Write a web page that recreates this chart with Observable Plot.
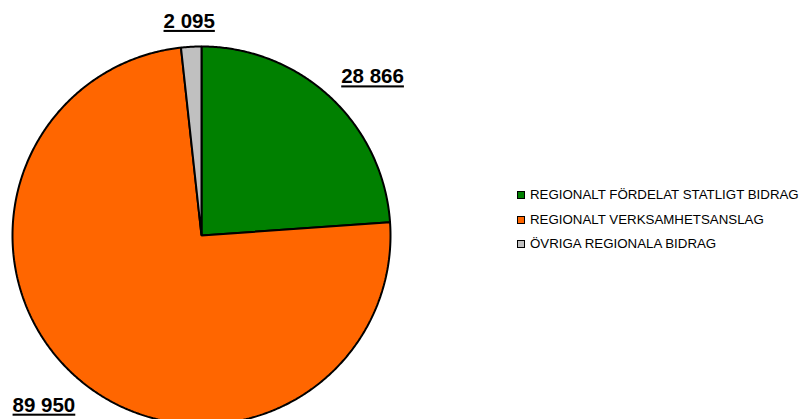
<!DOCTYPE html>
<html><head><meta charset="utf-8">
<script src="https://cdn.jsdelivr.net/npm/d3@7"></script>
<script src="https://cdn.jsdelivr.net/npm/@observablehq/plot@0.6"></script>
<style>
body{margin:0;background:#fff;font-family:"Liberation Sans",Arial,sans-serif;}
#wrap{position:relative;width:806px;height:419px;overflow:hidden;}
#wrap svg{position:absolute;left:0;top:0;}
g[aria-label="text"] text{text-decoration:underline;}
#legend{position:absolute;left:517px;top:183px;font-size:13.3px;color:#000;}
#legend .row{height:24.5px;line-height:16px;white-space:nowrap;display:flex;align-items:center;}
#legend .sw{display:inline-block;flex:none;width:6px;height:6px;border:1px solid #000;margin-right:5px;}
</style>
</head><body>
<div id="wrap"><div id="legend"></div></div>
<script>
const categories = ["REGIONALT FÖRDELAT STATLIGT BIDRAG", "REGIONALT VERKSAMHETSANSLAG", "ÖVRIGA REGIONALA BIDRAG"];
const values = [28866, 89950, 2095];
const valueLabels = ["28 866", "89 950", "2 095"];
const colors = ["#008000", "#FF6600", "#C0C0C0"];

const rows = categories.map((c, i) => ({category: c, value: values[i], label: valueLabels[i]}));
const arcs = d3.pie().sort(null).value(d => d.value)(rows);

// outline points for each slice (unit circle, y up)
const slicePts = [];
arcs.forEach(a => {
  slicePts.push({category: a.data.category, x: 0, y: 0});
  const n = Math.max(2, Math.ceil((a.endAngle - a.startAngle) / (Math.PI / 360)));
  for (let k = 0; k <= n; k++) {
    const t = a.startAngle + (a.endAngle - a.startAngle) * k / n;
    slicePts.push({category: a.data.category, x: Math.sin(t), y: Math.cos(t)});
  }
});

const labelR = 1.1;
const labels = arcs.map(a => {
  const m = (a.startAngle + a.endAngle) / 2;
  const s = Math.sin(m), c = Math.cos(m);
  return {
    label: a.data.label, x: labelR * s, y: labelR * c,
    anchor: s > 0.3 ? "start" : s < -0.3 ? "end" : "middle",
    line: c > 0 ? "bottom" : "top"
  };
});

const textMarks = labels.map(l => Plot.text([l], {
  x: "x", y: "y", text: "label", textAnchor: l.anchor, lineAnchor: l.line,
  dx: l.anchor === "end" ? 7 : l.anchor === "start" ? -2 : -1,
  dy: l.line === "top" ? 2 : 0,
  fontSize: 20.5, fontWeight: "bold", fill: "#000"
}));

const chart = Plot.plot({
  width: 806, height: 419,
  margin: 0,
  style: {fontFamily: '"Liberation Sans", Arial, sans-serif', background: "transparent", overflow: "visible"},
  x: {domain: [-1, 1], range: [12, 390], axis: null},
  y: {domain: [-1, 1], range: [424, 46], axis: null},
  color: {domain: categories, range: colors},
  marks: [
    Plot.line(slicePts, {x: "x", y: "y", z: "category", fill: "category", stroke: "#000", strokeWidth: 2, curve: "linear-closed", strokeLinejoin: "miter"}),
    ...textMarks
  ]
});
document.getElementById("wrap").appendChild(chart);

const legend = document.getElementById("legend");
categories.forEach((c, i) => {
  const row = document.createElement("div");
  row.className = "row";
  const sw = document.createElement("span");
  sw.className = "sw";
  sw.style.background = colors[i];
  row.appendChild(sw);
  row.appendChild(document.createTextNode(c));
  legend.appendChild(row);
});
</script>
</body></html>
